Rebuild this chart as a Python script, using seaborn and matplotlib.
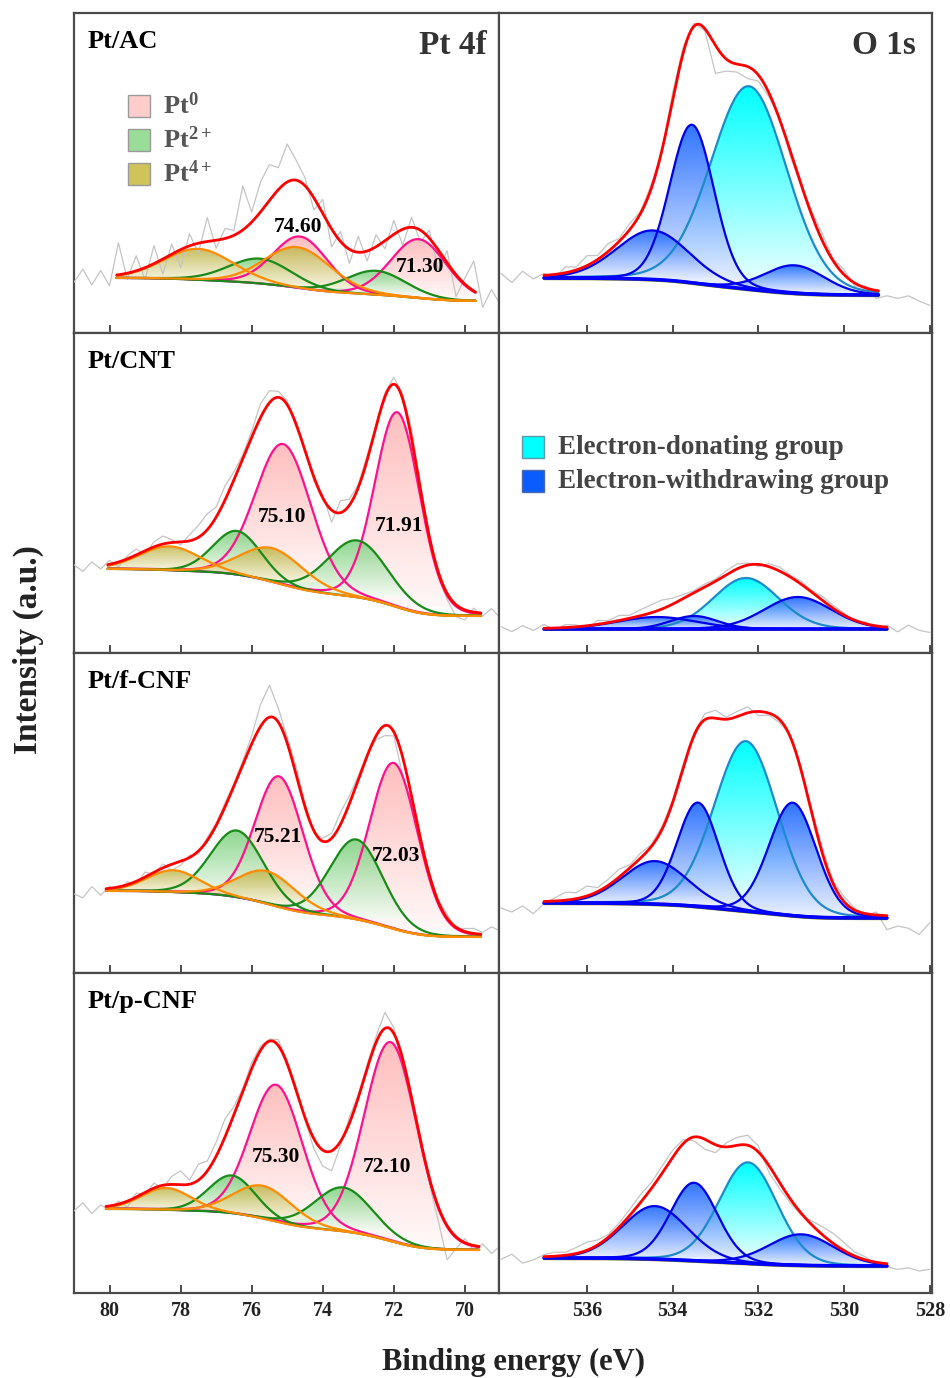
import numpy as np
import pandas as pd
import matplotlib
matplotlib.use("Agg")
import matplotlib.pyplot as plt
import seaborn as sns
from matplotlib.colors import LinearSegmentedColormap
from matplotlib.patches import Rectangle
from matplotlib.path import Path

sns.set_theme(style="white")
plt.rcParams["font.family"] = ["Liberation Serif", "DejaVu Serif"]
plt.rcParams["font.weight"] = "bold"
plt.rcParams["mathtext.fontset"] = "custom"
plt.rcParams["mathtext.rm"] = "Liberation Serif:bold"
plt.rcParams["mathtext.bf"] = "Liberation Serif:bold"
plt.rcParams["mathtext.it"] = "Liberation Serif:bold"
plt.rcParams["mathtext.default"] = "rm"

# ---------------- data ----------------
samples = ["Pt/AC", "Pt/CNT", "Pt/f-CNF", "Pt/p-CNF"]

# Pt 4f : fit range (high BE, low BE) and Shirley background end levels
pt_range = [(79.8, 69.7), (80.05, 69.55), (80.1, 69.55), (80.1, 69.6)]
pt_bg = [(55, 32), (84, 37), (82, 36), (84, 43)]
# Pt0 doublet (4f5/2, 4f7/2)
pt0_c = [[74.63, 71.30], [75.11, 71.90], [75.23, 72.00], [75.31, 72.09]]
pt0_h = [[52, 59], [141, 195], [131, 166], [137, 199]]
pt0_w = [[1.8, 1.85], [1.85, 1.5], [1.6, 1.6], [1.75, 1.75]]
# Pt2+ doublet
pt2_c = [[75.76, 72.50], [76.41, 73.02], [76.41, 73.05], [76.55, 73.42]]
pt2_h = [[25, 24], [44, 57], [67, 80], [38, 44]]
pt2_w = [[2.1, 2.0], [1.6, 2.0], [1.75, 1.75], [1.55, 1.9]]
# Pt4+ doublet
pt4_c = [[77.50, 74.70], [78.30, 75.42], [78.20, 75.56], [78.40, 75.68]]
pt4_h = [[31, 41], [24, 34], [22, 33], [22, 33]]
pt4_w = [[2.3, 2.2], [2.0, 2.1], [1.75, 1.95], [1.65, 1.95]]
pt_labels = [["74.60", "71.30"], ["75.10", "71.91"], ["75.21", "72.03"], ["75.30", "72.10"]]

# raw Pt 4f spectra: residual of measured counts from the fit, 81.0 -> 69.0 eV, 0.25 eV step
pt_raw_be = np.arange(81.0, 68.99, -0.25)
pt_resid = [
    [-5, 8, -8, 6, -10, 32, -6, 15, -12, 18, -15, 10, -18, 12, -10, 24, -8, 10, 5, 44,
     10, 30, 36, 22, 38, 20, 8, -12, 14, -18, 10, -14, 16, -10, 12, -8, 14, -16, 10, -12,
     8, -20, 12, -22, 6, 30, -12, 8, -6],
    [3, -4, 5, -3, 4, -5, 3, 6, -4, 5, 8, 3, -3, 6, 12, 16, 10, 14, 8, 4,
     6, 14, 12, 6, 4, -3, 2, -4, 3, -12, 12, 6, 3, 5, 2, 4, 7, 5, 10, 6,
     2, -3, -6, -12, -10, 4, -3, 5, -4],
    [-4, -8, 3, -6, 2, -4, 3, -3, 5, -2, 4, -6, -4, 2, -3, 3, 2, 4, 2, 4,
     8, 22, 32, 14, 6, 8, 4, -2, 3, 5, 12, 8, 4, 2, -4, -10, -4, -18, -6, -4,
     3, 2, 4, -2, 3, 5, 2, 8, 4],
    [-3, 5, -6, 2, -4, 3, -6, 4, -2, 5, -3, 8, 14, 4, 16, 10, 14, 18, 8, 3,
     6, 4, 2, 6, 3, 4, -2, -10, -16, -20, -4, 6, 3, 4, 6, 16, 6, -12, -3, 2,
     -6, -14, -34, -12, 4, -5, 3, -6, 2],
]

# O 1s : fit range and background
o_range = [(537.0, 529.2), (537.0, 529.0), (537.0, 529.0), (537.0, 529.0)]
o_bg = [(55, 38), (24, 24), (70, 55), (35, 27)]
don_c = [532.22, 532.29, 532.29, 532.24]
don_h = [203, 51, 170, 101]
don_w = [2.1, 1.8, 1.75, 1.6]
wd_c = [[533.55, 534.46, 531.15], [531.08, 534.37, 533.50],
        [533.41, 531.20, 534.41], [533.50, 534.41, 531.00]]
wd_h = [[158, 49, 28], [32, 12, 13], [104, 113, 43], [78, 53, 31]]
wd_w = [[1.22, 2.0, 1.65], [1.85, 2.2, 1.3], [1.15, 1.3, 1.8], [1.3, 1.8, 1.8]]

o_raw_be = np.arange(538.0, 527.99, -0.25)
o_resid = [
    [3, -6, 5, -3, 2, -4, 6, 3, 10, 4, 8, 3, 6, 2, 4, -2, 8, 6, 3, -2,
     -28, -12, -8, -12, -6, -4, 3, -5, -2, 4, 7, 2, 5, -3, 2, -8, -4, -6, -3, -8, -12],
    [2, -3, 3, -2, 4, -2, 3, 2, -3, 4, 2, 5, 3, 6, 8, 9, 6, 4, 2, 3,
     2, 4, 5, 2, -2, 3, 4, 2, 3, 2, 4, 3, 2, -2, 2, -3, 2, -4, 3, -2, -4],
    [-6, -10, -4, -12, -2, 3, 8, 6, 10, 4, 6, 8, 3, 5, 2, 3, 2, 4, 3, 6,
     8, 2, 5, 6, -4, -2, -3, 2, 3, 4, 6, 3, 5, 2, -2, 3, -14, -10, -12, -18, -6],
    [-2, 3, -6, -3, 2, 4, 3, 6, 8, 5, 3, 4, 6, 8, 6, 7, 7, 4, -4, -10,
     -8, 4, 8, 10, 6, -7, -6, -4, -2, 4, 8, 10, 8, 4, 3, -2, -3, -5, -3, -6, -4],
]

# ---------------- helpers ----------------
ETA = 0.1


def pv(x, c, h, w):
    d = (x - c) / w
    return h * ((1 - ETA) * np.exp(-4 * np.log(2) * d ** 2) + ETA / (1 + 4 * d ** 2))


def shirley(xf, total, hi, lo):
    xa = xf[::-1]
    ta = total[::-1]
    cum = np.concatenate([[0.0], np.cumsum(0.5 * (ta[1:] + ta[:-1]) * np.diff(xa))])
    b = lo + (hi - lo) * cum / cum[-1]
    return b[::-1]


def grad_fill(ax, x, ybot, ytop, c_top, c_bot, alpha, z):
    verts = np.vstack([np.c_[x, ytop], np.c_[x[::-1], ybot[::-1]]])
    path = Path(verts)
    cmap = LinearSegmentedColormap.from_list("g", [c_bot, c_top])
    grad = np.linspace(0, 1, 256).reshape(-1, 1)
    lo_y = ybot[np.argmax(ytop - ybot)]
    im = ax.imshow(grad, cmap=cmap, origin="lower", aspect="auto",
                   extent=[x.min(), x.max(), lo_y, ytop.max()],
                   alpha=alpha, zorder=z, interpolation="bilinear")
    im.set_clip_path(path, transform=ax.transData)


def line(ax, x, y, color, lw, z):
    sns.lineplot(x=x, y=y, ax=ax, color=color, lw=lw, sort=False,
                 estimator=None, zorder=z, legend=False)


SPINE = "#4a4a4a"
fig = plt.figure(figsize=(9.5, 13.78), dpi=100)
gs = fig.add_gridspec(4, 2, left=74 / 950, right=932 / 950, top=1 - 13 / 1378,
                      bottom=1 - 1293 / 1378, hspace=0, wspace=0, width_ratios=[425, 433])

label_pos = [[(74.70, 106), (71.27, 66)], [(75.15, 136), (71.86, 127)],
             [(75.27, 136), (71.94, 117)], [(75.32, 136), (72.20, 126)]]

for i in range(4):
    # ---------- Pt 4f ----------
    ax = fig.add_subplot(gs[i, 0])
    x0, x1 = pt_range[i]
    xf = np.linspace(x0, x1, 600)
    comps = []
    for k in range(2):
        comps.append(("pt0", pt0_c[i][k], pt0_h[i][k], pt0_w[i][k]))
        comps.append(("pt2", pt2_c[i][k], pt2_h[i][k], pt2_w[i][k]))
        comps.append(("pt4", pt4_c[i][k], pt4_h[i][k], pt4_w[i][k]))
    peaks = [pv(xf, c, h, w) for _, c, h, w in comps]
    total = np.sum(peaks, axis=0)
    base = shirley(xf, total, *pt_bg[i])
    env = base + total

    raw_model = np.interp(pt_raw_be[::-1], xf[::-1], base[::-1])[::-1]
    raw_model = raw_model + np.sum([pv(pt_raw_be, c, h, w) for _, c, h, w in comps], axis=0)
    raw = raw_model + np.array(pt_resid[i])
    line(ax, pt_raw_be, raw, "#c4c4c4", 0.9, 5)

    fill_style = {"pt0": ("#ffbaba", "#fff8f8", 0.95, 2),
                  "pt2": ("#78cf78", "#f4fbf4", 0.85, 3),
                  "pt4": ("#bdb445", "#f6f3dc", 0.85, 4)}
    for (kind, c, h, w), p in zip(comps, peaks):
        ct, cb, a, z = fill_style[kind]
        grad_fill(ax, xf, base, base + p, ct, cb, a, z)
    line(ax, xf, base, "#3050ff", 1.0, 5.5)
    line_style = {"pt0": ("#ff108c", 6.0), "pt2": ("#1a8a1a", 6.1), "pt4": ("#ff8c00", 6.2)}
    for kind in ["pt0", "pt2", "pt4"]:
        for (kd, c, h, w), p in zip(comps, peaks):
            if kd == kind:
                col, z = line_style[kind]
                line(ax, xf, base + p, col, 1.6, z)
    line(ax, xf, env, "#ff0000", 2.0, 7)

    for txt, (bx, by) in zip(pt_labels[i], label_pos[i]):
        ax.text(bx, by, txt, ha="center", va="center", fontsize=15.5,
                fontweight="bold", color="black", zorder=10)

    ax.text(0.033, 0.91, samples[i], transform=ax.transAxes, ha="left", va="center",
            fontsize=19, fontweight="bold", color="black")
    ax.set_xlim(81.0, 69.04)
    ax.set_ylim(0, 320)
    ax.set_xticks([80, 78, 76, 74, 72, 70])

    if i == 0:
        ax.text(0.972, 0.90, "Pt 4f", transform=ax.transAxes, ha="right", va="center",
                fontsize=24, fontweight="bold", color="#333333")
        leg = [("Pt$^{0}$", "#ffcccc"), ("Pt$^{2+}$", "#99dd99"), ("Pt$^{4+}$", "#cfc45a")]
        for k, (t, col) in enumerate(leg):
            yc = 1 - (106 + 34 * k - 13) / 320
            ax.add_patch(Rectangle((0.127, yc - 0.034), 0.052, 0.068, transform=ax.transAxes,
                                   facecolor=col, edgecolor="#9a9a9a", lw=1, zorder=10))
            ax.text(0.209, yc, t, transform=ax.transAxes, ha="left", va="center",
                    fontsize=19, fontweight="bold", color="#555555", zorder=10)

    # ---------- O 1s ----------
    bx_ = fig.add_subplot(gs[i, 1])
    x0, x1 = o_range[i]
    xf = np.linspace(x0, x1, 600)
    dpk = pv(xf, don_c[i], don_h[i], don_w[i])
    wpk = [pv(xf, c, h, w) for c, h, w in zip(wd_c[i], wd_h[i], wd_w[i])]
    total = dpk + np.sum(wpk, axis=0)
    base = shirley(xf, total, *o_bg[i])
    env = base + total

    raw_model = np.interp(o_raw_be[::-1], xf[::-1], base[::-1])[::-1]
    raw_model = raw_model + pv(o_raw_be, don_c[i], don_h[i], don_w[i]) + \
        np.sum([pv(o_raw_be, c, h, w) for c, h, w in zip(wd_c[i], wd_h[i], wd_w[i])], axis=0)
    raw = raw_model + np.array(o_resid[i])
    line(bx_, o_raw_be, raw, "#c4c4c4", 0.9, 5)

    grad_fill(bx_, xf, base, base + dpk, "#00ffff", "#f2ffff", 1.0, 2)
    for p in wpk:
        grad_fill(bx_, xf, base, base + p, "#0a5cff", "#e8eeff", 0.85, 3)
    line(bx_, xf, base + dpk, "#1e8acc", 1.6, 6)
    for p in wpk:
        line(bx_, xf, base + p, "#0000e6", 1.6, 6.1)
    line(bx_, xf, base - 1.2, "#8b8b00", 1.4, 6.2)
    line(bx_, xf, base, "#0000ff", 2.6, 6.3)
    line(bx_, xf, env, "#ff0000", 2.0, 7)

    bx_.set_xlim(538.05, 527.95)
    bx_.set_ylim(0, 320)
    bx_.set_xticks([536, 534, 532, 530, 528])

    if i == 0:
        bx_.text(0.963, 0.90, "O 1s", transform=bx_.transAxes, ha="right", va="center",
                 fontsize=24, fontweight="bold", color="#333333")
    if i == 1:
        leg = [("Electron-donating group", "#00ffff", "#5a9aaa"),
               ("Electron-withdrawing group", "#0a5cff", "#4a6aaa")]
        for k, (t, col, ec) in enumerate(leg):
            yc = 1 - (446 + 34 * k - 332) / 320
            bx_.add_patch(Rectangle((0.053, yc - 0.034), 0.051, 0.068, transform=bx_.transAxes,
                                    facecolor=col, edgecolor=ec, lw=1, zorder=10))
            bx_.text(0.1366, yc, t, transform=bx_.transAxes, ha="left", va="center",
                     fontsize=19.5, fontweight="bold", color="#444444", zorder=10)

    for a in (ax, bx_):
        a.set_yticks([])
        a.set_xlabel("")
        a.set_ylabel("")
        for s in a.spines.values():
            s.set_color(SPINE)
            s.set_linewidth(1.6)
            s.set_visible(True)
        a.tick_params(axis="x", direction="in", length=6, width=1.4, color=SPINE,
                      bottom=True, top=False, labelbottom=(i == 3), pad=6,
                      labelsize=14.5, labelcolor="#222222")
        for lab in a.get_xticklabels():
            lab.set_fontweight("bold")

fig.text(514 / 950, 1 - 1362 / 1378, "Binding energy (eV)", ha="center", va="center",
         fontsize=22, fontweight="bold", color="#222222")
fig.text(28 / 950, 1 - 650 / 1378, "Intensity (a.u.)", ha="center", va="center",
         rotation=90, fontsize=24, fontweight="bold", color="#222222")

fig.savefig("out.png", dpi=100)
